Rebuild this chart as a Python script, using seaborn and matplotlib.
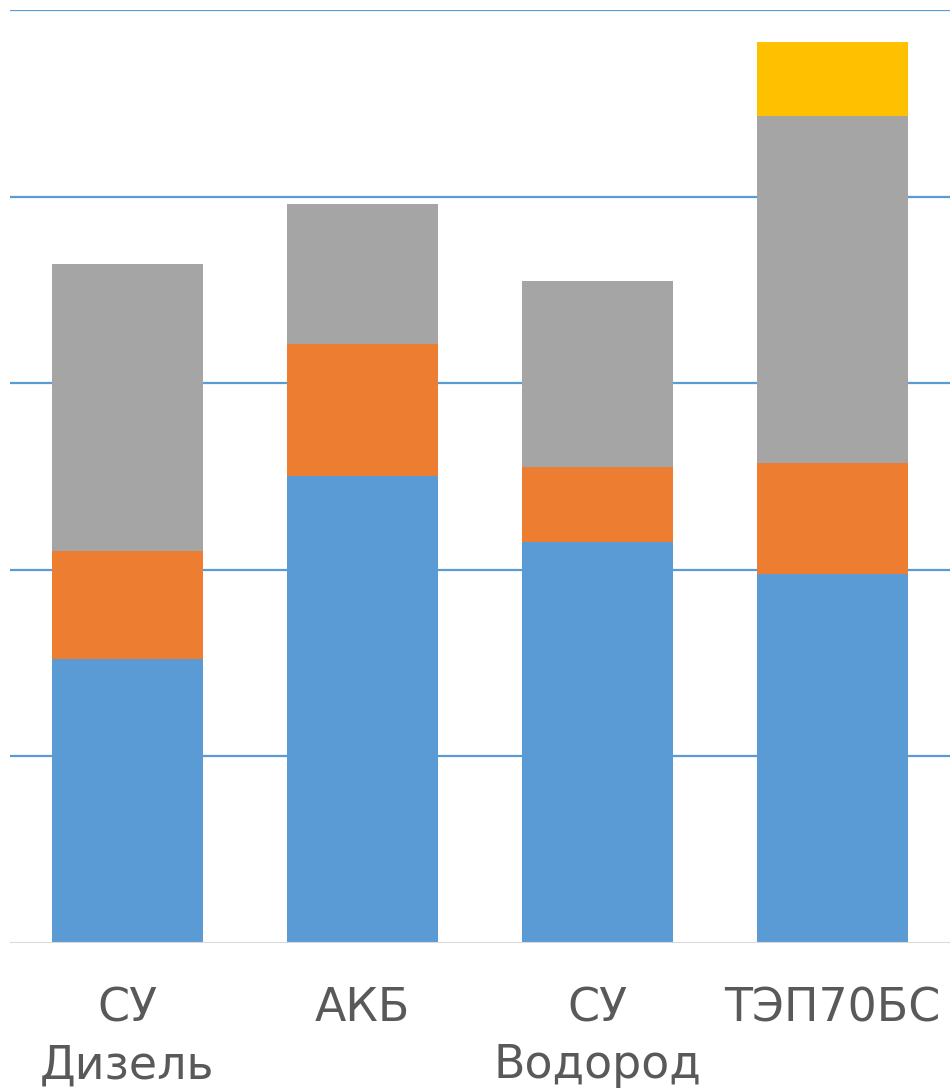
import numpy as np
import pandas as pd
import matplotlib
matplotlib.use("Agg")
import matplotlib.pyplot as plt
import seaborn as sns

categories = ["СУ\nДизель", "АКБ", "СУ\nВодород", "ТЭП70БС"]
s_blue = [1.52, 2.50, 2.15, 1.98]
s_orange = [0.58, 0.71, 0.40, 0.59]
s_gray = [1.54, 0.75, 1.00, 1.86]
s_yellow = [0.0, 0.0, 0.0, 0.40]

colors = ["#5B9BD5", "#ED7D31", "#A5A5A5", "#FFC000"]
series = [s_blue, s_orange, s_gray, s_yellow]

sns.set_theme(style="white")
plt.rcParams['font.family'] = ['DejaVu Sans']

fig = plt.figure(figsize=(9.53, 10.88), dpi=100)
ax = fig.add_axes([10/953, (1088-943)/1088, 940/953, 933/1088])

cum = np.cumsum(np.array(series), axis=0)
for i in range(len(series) - 1, -1, -1):
    df = pd.DataFrame({"cat": categories, "val": cum[i]})
    sns.barplot(data=df, x="cat", y="val", color=colors[i], width=0.643,
                saturation=1, ax=ax, edgecolor="none", linewidth=0, zorder=3)

ax.set_ylim(0, 5)
ax.set_xlim(-0.5, 3.5)
ax.set_yticks([1, 2, 3, 4, 5])
ax.yaxis.grid(True, color="#5B9BD5", linewidth=1.6)
ax.set_axisbelow(True)
ax.axhline(0, color="#D9D9D9", linewidth=1.5, zorder=4)
for sp in ax.spines.values():
    sp.set_visible(False)
ax.set_yticklabels([])
ax.tick_params(axis="y", length=0)
ax.tick_params(axis="x", length=0, pad=31, labelsize=33, labelcolor="#595959")
for t in ax.get_xticklabels():
    t.set_linespacing(1.35)
    t.set_verticalalignment("top")
ax.set_xlabel("")
ax.set_ylabel("")

fig.savefig("out.png", dpi=100)
